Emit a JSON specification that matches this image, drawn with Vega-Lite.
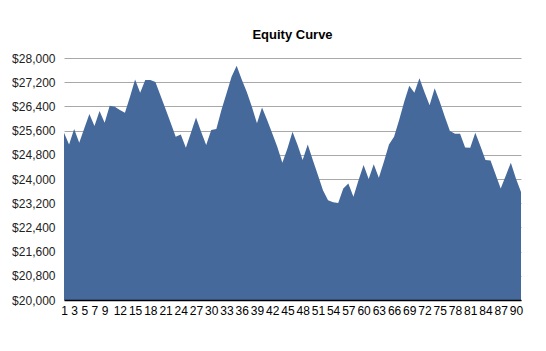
{
  "$schema": "https://vega.github.io/schema/vega-lite/v6.json",
  "autosize": {"type": "none"},
  "width": 457,
  "height": 242,
  "padding": {"left": 64, "top": 58, "right": 25, "bottom": 51},
  "background": "white",
  "title": {"text": "Equity Curve", "fontSize": 13, "fontWeight": "bold", "font": "Liberation Sans", "color": "#000000", "anchor": "middle", "offset": 10},
  "config": {"view": {"stroke": null}, "axis": {"labelOverlap": false}},
  "data": {"values": [
    {"trade": 1, "equity": 25530}, {"trade": 2, "equity": 25140}, {"trade": 3, "equity": 25650}, {"trade": 4, "equity": 25200},
    {"trade": 5, "equity": 25680}, {"trade": 6, "equity": 26150}, {"trade": 7, "equity": 25750}, {"trade": 8, "equity": 26250},
    {"trade": 9, "equity": 25860}, {"trade": 10, "equity": 26420}, {"trade": 11, "equity": 26390}, {"trade": 12, "equity": 26280},
    {"trade": 13, "equity": 26190}, {"trade": 14, "equity": 26720}, {"trade": 15, "equity": 27290}, {"trade": 16, "equity": 26850},
    {"trade": 17, "equity": 27270}, {"trade": 18, "equity": 27270}, {"trade": 19, "equity": 27210}, {"trade": 20, "equity": 26760},
    {"trade": 21, "equity": 26310}, {"trade": 22, "equity": 25860}, {"trade": 23, "equity": 25400}, {"trade": 24, "equity": 25470},
    {"trade": 25, "equity": 25030}, {"trade": 26, "equity": 25530}, {"trade": 27, "equity": 26030}, {"trade": 28, "equity": 25560},
    {"trade": 29, "equity": 25120}, {"trade": 30, "equity": 25620}, {"trade": 31, "equity": 25650}, {"trade": 32, "equity": 26280},
    {"trade": 33, "equity": 26830}, {"trade": 34, "equity": 27380}, {"trade": 35, "equity": 27740}, {"trade": 36, "equity": 27290},
    {"trade": 37, "equity": 26880}, {"trade": 38, "equity": 26390}, {"trade": 39, "equity": 25840}, {"trade": 40, "equity": 26360},
    {"trade": 41, "equity": 25950}, {"trade": 42, "equity": 25510}, {"trade": 43, "equity": 25070}, {"trade": 44, "equity": 24540},
    {"trade": 45, "equity": 25010}, {"trade": 46, "equity": 25560}, {"trade": 47, "equity": 25120}, {"trade": 48, "equity": 24630},
    {"trade": 49, "equity": 25140}, {"trade": 50, "equity": 24630}, {"trade": 51, "equity": 24130}, {"trade": 52, "equity": 23630},
    {"trade": 53, "equity": 23300}, {"trade": 54, "equity": 23230}, {"trade": 55, "equity": 23210}, {"trade": 56, "equity": 23690},
    {"trade": 57, "equity": 23850}, {"trade": 58, "equity": 23410}, {"trade": 59, "equity": 23960}, {"trade": 60, "equity": 24460},
    {"trade": 61, "equity": 24000}, {"trade": 62, "equity": 24490}, {"trade": 63, "equity": 24040}, {"trade": 64, "equity": 24570},
    {"trade": 65, "equity": 25140}, {"trade": 66, "equity": 25400}, {"trade": 67, "equity": 25950}, {"trade": 68, "equity": 26550},
    {"trade": 69, "equity": 27080}, {"trade": 70, "equity": 26850}, {"trade": 71, "equity": 27330}, {"trade": 72, "equity": 26870},
    {"trade": 73, "equity": 26440}, {"trade": 74, "equity": 27000}, {"trade": 75, "equity": 26550}, {"trade": 76, "equity": 26060},
    {"trade": 77, "equity": 25590}, {"trade": 78, "equity": 25500}, {"trade": 79, "equity": 25500}, {"trade": 80, "equity": 25040},
    {"trade": 81, "equity": 25030}, {"trade": 82, "equity": 25530}, {"trade": 83, "equity": 25090}, {"trade": 84, "equity": 24630},
    {"trade": 85, "equity": 24610}, {"trade": 86, "equity": 24150}, {"trade": 87, "equity": 23690}, {"trade": 88, "equity": 24110},
    {"trade": 89, "equity": 24540}, {"trade": 90, "equity": 24020}, {"trade": 91, "equity": 23570}
  ]},
  "mark": {"type": "area", "color": "#45699b", "opacity": 1},
  "encoding": {
    "x": {"field": "trade", "type": "quantitative", "scale": {"domain": [1, 91], "nice": false, "zero": false},
      "axis": {"title": null, "grid": false, "ticks": false, "domain": true, "domainColor": "#000000", "domainWidth": 1.5,
        "values": [1,3,5,7,9,12,15,18,21,24,27,30,33,36,39,42,45,48,51,54,57,60,63,66,69,72,75,78,81,84,87,90],
        "labelFont": "Liberation Sans", "labelFontSize": 12, "labelColor": "#000000", "labelPadding": 5, "labelOverlap": false, "labelFlush": false, "zindex": 1}},
    "y": {"field": "equity", "type": "quantitative", "scale": {"domain": [20000, 28000], "nice": false, "zero": false},
      "axis": {"title": null, "grid": true, "gridColor": "#a8a8a8", "gridWidth": 1, "gridOpacity": 1, "ticks": false, "domain": false,
        "values": [20000,20800,21600,22400,23200,24000,24800,25600,26400,27200,28000],
        "format": "$,.0f", "labelFont": "Liberation Sans", "labelFontSize": 12, "labelColor": "#222222", "labelPadding": 9, "labelOverlap": false}},
    "y2": {"datum": 20000}
  }
}
